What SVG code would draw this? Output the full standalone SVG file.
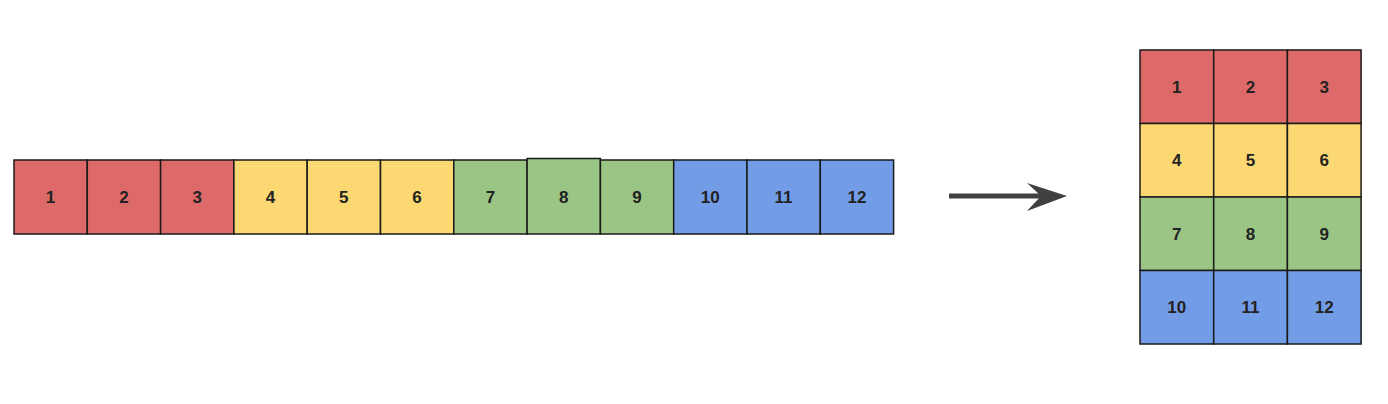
<svg xmlns="http://www.w3.org/2000/svg" width="1388" height="404" viewBox="0 0 1388 404">
<style>
.c rect{stroke:#1a1a1a;stroke-width:1.5}
.r{fill:#dd6a68}.y{fill:#fbd872}.g{fill:#9bc585}.b{fill:#729ce6}
text{font-family:"Liberation Sans",Arial,sans-serif;font-weight:bold;font-size:17px;fill:#222;text-anchor:middle;dominant-baseline:central}
</style>
<rect width="1388" height="404" fill="#ffffff"/>
<g id="row">
<g id="a1" class="c"><rect class="r" x="14" y="160" width="73.3" height="74"/><text x="50.6" y="197">1</text></g>
<g id="a2" class="c"><rect class="r" x="87.3" y="160" width="73.3" height="74"/><text x="123.9" y="197">2</text></g>
<g id="a3" class="c"><rect class="r" x="160.6" y="160" width="73.3" height="74"/><text x="197.2" y="197">3</text></g>
<g id="a4" class="c"><rect class="y" x="233.9" y="160" width="73.3" height="74"/><text x="270.5" y="197">4</text></g>
<g id="a5" class="c"><rect class="y" x="307.2" y="160" width="73.3" height="74"/><text x="343.8" y="197">5</text></g>
<g id="a6" class="c"><rect class="y" x="380.5" y="160" width="73.3" height="74"/><text x="417.1" y="197">6</text></g>
<g id="a7" class="c"><rect class="g" x="453.8" y="160" width="73.3" height="74"/><text x="490.4" y="197">7</text></g>
<g id="a8" class="c"><rect class="g" x="527.1" y="158.5" width="73.3" height="75.5"/><text x="563.7" y="197">8</text></g>
<g id="a9" class="c"><rect class="g" x="600.4" y="160" width="73.3" height="74"/><text x="637" y="197">9</text></g>
<g id="a10" class="c"><rect class="b" x="673.7" y="160" width="73.3" height="74"/><text x="710.3" y="197">10</text></g>
<g id="a11" class="c"><rect class="b" x="747" y="160" width="73.3" height="74"/><text x="783.6" y="197">11</text></g>
<g id="a12" class="c"><rect class="b" x="820.3" y="160" width="73.3" height="74"/><text x="856.9" y="197">12</text></g>
</g>
<g id="connectors">
<line x1="949" y1="196" x2="1045" y2="196" stroke="#404040" stroke-width="5"/>
<path d="M1067,196 L1027,183 L1041,196 L1027,211 Z" fill="#404040"/>
</g>
<g id="grid">
<g id="b1" class="c"><rect class="r" x="1140" y="50" width="73.7" height="73.5"/><text x="1176.8" y="87">1</text></g>
<g id="b2" class="c"><rect class="r" x="1213.7" y="50" width="73.7" height="73.5"/><text x="1250.5" y="87">2</text></g>
<g id="b3" class="c"><rect class="r" x="1287.4" y="50" width="73.7" height="73.5"/><text x="1324.2" y="87">3</text></g>
<g id="b4" class="c"><rect class="y" x="1140" y="123.5" width="73.7" height="73.5"/><text x="1176.8" y="160.5">4</text></g>
<g id="b5" class="c"><rect class="y" x="1213.7" y="123.5" width="73.7" height="73.5"/><text x="1250.5" y="160.5">5</text></g>
<g id="b6" class="c"><rect class="y" x="1287.4" y="123.5" width="73.7" height="73.5"/><text x="1324.2" y="160.5">6</text></g>
<g id="b7" class="c"><rect class="g" x="1140" y="197" width="73.7" height="73.5"/><text x="1176.8" y="234">7</text></g>
<g id="b8" class="c"><rect class="g" x="1213.7" y="197" width="73.7" height="73.5"/><text x="1250.5" y="234">8</text></g>
<g id="b9" class="c"><rect class="g" x="1287.4" y="197" width="73.7" height="73.5"/><text x="1324.2" y="234">9</text></g>
<g id="b10" class="c"><rect class="b" x="1140" y="270.5" width="73.7" height="73.5"/><text x="1176.8" y="307.5">10</text></g>
<g id="b11" class="c"><rect class="b" x="1213.7" y="270.5" width="73.7" height="73.5"/><text x="1250.5" y="307.5">11</text></g>
<g id="b12" class="c"><rect class="b" x="1287.4" y="270.5" width="73.7" height="73.5"/><text x="1324.2" y="307.5">12</text></g>
</g>
</svg>
